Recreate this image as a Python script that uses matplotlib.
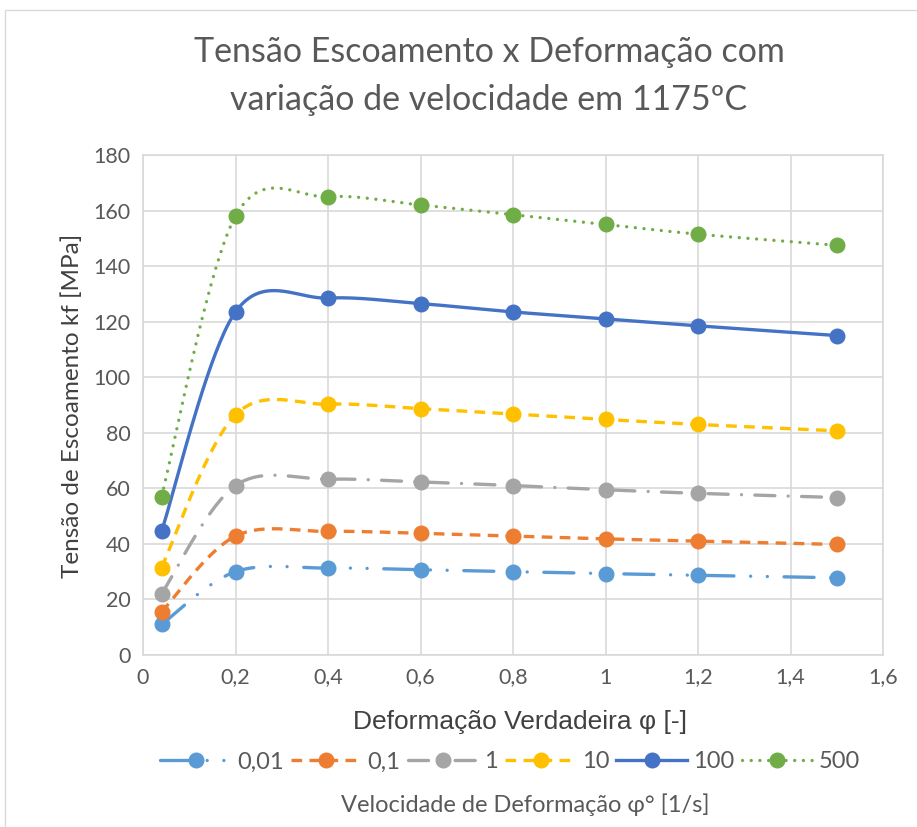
import numpy as np
import matplotlib.pyplot as plt
from matplotlib.lines import Line2D
from matplotlib.patches import Rectangle
from matplotlib.ticker import FuncFormatter

plt.rcParams['font.family'] = ['Lato', 'DejaVu Sans']

# deformation (phi) and flow stress kf [MPa] for each strain rate
deformacao = [0.04, 0.2, 0.4, 0.6, 0.8, 1.0, 1.2, 1.5]
kf_001 = [11.0, 30.0, 31.3, 30.7, 30.0, 29.3, 28.7, 27.8]
kf_01 = [15.5, 42.8, 44.5, 43.8, 42.8, 41.8, 41.0, 39.8]
kf_1 = [22.0, 61.0, 63.3, 62.3, 61.0, 59.5, 58.2, 56.7]
kf_10 = [31.5, 86.5, 90.3, 88.7, 86.8, 84.8, 83.0, 80.7]
kf_100 = [44.5, 123.5, 128.5, 126.5, 123.5, 121.0, 118.5, 115.0]
kf_500 = [57.0, 158.0, 165.0, 162.0, 158.5, 155.0, 151.5, 147.5]
velocidades = ['0,01', '0,1', '1', '10', '100', '500']

series = [kf_001, kf_01, kf_1, kf_10, kf_100, kf_500]
cores = ['#5B9BD5', '#ED7D31', '#A5A5A5', '#FFC000', '#4472C4', '#70AD47']
estilos = [(0, (9, 5, 0.01, 5, 0.01, 5)),
           (0, (3.2, 2.2)),
           (0, (6, 4, 0.01, 4)),
           (0, (3.2, 2.2)),
           '-',
           (0, (0.01, 2.6))]
caps = ['round', 'butt', 'round', 'butt', 'round', 'round']


def suavizar(x, y, n=40):
    # smooth bezier curve through the points (like a spreadsheet smoothed line)
    p = np.column_stack([x, y]).astype(float)
    pts = np.vstack([p[0], p, p[-1]])
    t = np.linspace(0, 1, n)[:, None]
    out = []
    for i in range(len(p) - 1):
        p0, p1 = pts[i + 1], pts[i + 2]
        c1 = p0 + (pts[i + 2] - pts[i]) / 6
        c2 = p1 - (pts[i + 3] - pts[i + 1]) / 6
        seg = ((1 - t) ** 3) * p0 + 3 * ((1 - t) ** 2) * t * c1 + 3 * (1 - t) * t ** 2 * c2 + t ** 3 * p1
        out.append(seg)
    out = np.vstack(out)
    return out[:, 0], out[:, 1]


W, H = 917, 827
fig = plt.figure(figsize=(W / 100, H / 100), dpi=100)
fig.patches.append(Rectangle((5 / W, -0.1), 1.1, 1 - 10 / H + 0.1, transform=fig.transFigure,
                             fill=False, edgecolor='#D9D9D9', lw=1))
ax = fig.add_axes([143 / W, 1 - 655 / H, 740 / W, 500 / H])

lw = 2.4
handles = []
for y, cor, ls, cap, nome in zip(series, cores, estilos, caps, velocidades):
    xs, ys = suavizar(deformacao, y)
    ax.plot(xs, ys, color=cor, lw=lw, linestyle=ls, dash_capstyle=cap, zorder=3)
    ax.plot(deformacao, y, 'o', color=cor, ms=10.5, zorder=4)
    handles.append(Line2D([], [], color=cor, lw=lw, linestyle=ls, dash_capstyle=cap,
                          marker='o', ms=10.5, label=nome))

ax.set_xlim(0, 1.6)
ax.set_ylim(0, 180)
ax.set_xticks(np.arange(0, 1.61, 0.2))
ax.set_yticks(np.arange(0, 181, 20))
ax.xaxis.set_major_formatter(FuncFormatter(lambda v, p: ('%g' % round(v, 1)).replace('.', ',')))
ax.grid(True, color='#D9D9D9', lw=1.2)
ax.set_axisbelow(True)
for s in ax.spines.values():
    s.set_color('#D9D9D9')
    s.set_linewidth(1.2)
ax.tick_params(length=0, labelsize=15.5, labelcolor='#595959', pad=9)

fig.text(520 / W, 1 - 722 / H, 'Deformação Verdadeira φ [-]', ha='center', va='center',
         fontsize=19, color='#404040', family=['Liberation Sans', 'DejaVu Sans'])
fig.text(72 / W, 1 - 406 / H, 'Tensão de Escoamento kf [MPa]', ha='center', va='center',
         rotation=90, fontsize=17.5, color='#404040')

fig.text(489 / W, 1 - 52 / H, 'Tensão Escoamento x Deformação com', ha='center', va='center',
         fontsize=24.5, color='#595959')
fig.text(489 / W, 1 - 100 / H, 'variação de velocidade em 1175ºC', ha='center', va='center',
         fontsize=24.5, color='#595959')

fig.legend(handles=handles, loc='center', bbox_to_anchor=(510 / W, 1 - 762 / H), ncol=6,
           frameon=False, fontsize=17, labelcolor='#595959', handlelength=3.0,
           handletextpad=0.25, columnspacing=0.3, borderpad=0)
fig.text(525 / W, 1 - 805 / H, 'Velocidade de Deformação φ° [1/s]', ha='center', va='center',
         fontsize=17, color='#595959')

fig.savefig('out.png', dpi=100)
